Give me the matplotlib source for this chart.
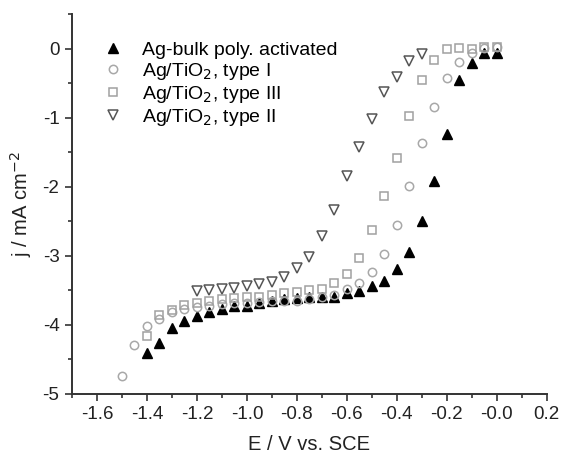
import matplotlib as mpl
mpl.use('Agg')
import matplotlib.pyplot as plt
from matplotlib.ticker import MultipleLocator
import numpy as np

plt.rcParams['font.family'] = ['Liberation Sans', 'DejaVu Sans']

# Ag-bulk poly. activated (filled triangles)
e_bulk = [-1.40, -1.35, -1.30, -1.25, -1.20, -1.15, -1.10, -1.05, -1.00, -0.95, -0.90,
          -0.85, -0.80, -0.75, -0.70, -0.65, -0.60, -0.55, -0.50, -0.45, -0.40, -0.35,
          -0.30, -0.25, -0.20, -0.15, -0.10, -0.05, 0.00]
j_bulk = [-4.41, -4.26, -4.05, -3.94, -3.87, -3.81, -3.77, -3.72, -3.72, -3.68, -3.66,
          -3.62, -3.61, -3.60, -3.59, -3.59, -3.54, -3.51, -3.44, -3.36, -3.19, -2.94,
          -2.50, -1.92, -1.24, -0.46, -0.21, -0.06, -0.06]

# Ag/TiO2, type I (open circles)
e_type1 = [-1.50, -1.45, -1.40, -1.35, -1.30, -1.25, -1.20, -1.15, -1.10, -1.05, -1.00,
           -0.95, -0.90, -0.85, -0.80, -0.75, -0.70, -0.65, -0.60, -0.55, -0.50, -0.45,
           -0.40, -0.35, -0.30, -0.25, -0.20, -0.15, -0.10, -0.05, 0.00]
j_type1 = [-4.74, -4.29, -4.01, -3.91, -3.81, -3.77, -3.74, -3.72, -3.70, -3.69, -3.68,
           -3.67, -3.66, -3.66, -3.65, -3.63, -3.60, -3.56, -3.48, -3.39, -3.23, -2.97,
           -2.55, -1.99, -1.36, -0.85, -0.42, -0.19, -0.06, 0.01, 0.02]

# Ag/TiO2, type III (open squares)
e_type3 = [-1.40, -1.35, -1.30, -1.25, -1.20, -1.15, -1.10, -1.05, -1.00, -0.95, -0.90,
           -0.85, -0.80, -0.75, -0.70, -0.65, -0.60, -0.55, -0.50, -0.45, -0.40, -0.35,
           -0.30, -0.25, -0.20, -0.15, -0.10, -0.05, 0.00]
j_type3 = [-4.16, -3.85, -3.78, -3.71, -3.68, -3.65, -3.62, -3.61, -3.60, -3.59, -3.56,
           -3.54, -3.52, -3.50, -3.48, -3.39, -3.26, -3.03, -2.62, -2.14, -1.58, -0.97,
           -0.46, -0.17, -0.01, 0.01, 0.00, 0.02, 0.02]

# Ag/TiO2, type II (open down triangles)
e_type2 = [-1.20, -1.15, -1.10, -1.05, -1.00, -0.95, -0.90, -0.85, -0.80, -0.75, -0.70,
           -0.65, -0.60, -0.55, -0.50, -0.45, -0.40, -0.35, -0.30]
j_type2 = [-3.51, -3.49, -3.48, -3.47, -3.44, -3.41, -3.38, -3.30, -3.18, -3.01, -2.71,
           -2.34, -1.85, -1.42, -1.02, -0.62, -0.41, -0.18, -0.08]

fig = plt.figure(figsize=(5.62, 4.57), dpi=100)
ax = fig.add_axes([0.128, 0.138, 0.845, 0.831])

ax.plot(e_bulk, j_bulk, linestyle='none', marker='^', ms=7, mfc='black', mec='black',
        label='Ag-bulk poly. activated')
ax.plot(e_type1, j_type1, linestyle='none', marker='o', ms=6, mfc='none', mec='#a8a8a8',
        mew=1.1, label='Ag/TiO$_2$, type I')
ax.plot(e_type3, j_type3, linestyle='none', marker='s', ms=5.5, mfc='none', mec='#a0a0a0',
        mew=1.1, label='Ag/TiO$_2$, type III')
ax.plot(e_type2, j_type2, linestyle='none', marker='v', ms=7, mfc='none', mec='#555555',
        mew=1.1, label='Ag/TiO$_2$, type II')

ax.set_xlim(-1.7, 0.2)
ax.set_ylim(-5, 0.5)
ax.xaxis.set_minor_locator(MultipleLocator(0.1))
ax.yaxis.set_minor_locator(MultipleLocator(0.5))
xt = np.arange(-1.6, 0.21, 0.2)
ax.set_xticks(xt)
ax.set_xticklabels([f'{v:.1f}' for v in xt])
ax.set_yticks([-5, -4, -3, -2, -1, 0])
ax.set_yticklabels(['-5', '-4', '-3', '-2', '-1', '0'])

for side in ['top', 'right']:
    ax.spines[side].set_visible(False)
for side in ['left', 'bottom']:
    ax.spines[side].set_linewidth(1.4)
    ax.spines[side].set_color('#333333')
ax.tick_params(which='major', direction='out', length=5, width=1.2, color='#333333',
               labelsize=13.5, labelcolor='#222222', pad=4)
ax.tick_params(which='minor', direction='out', length=3, width=1.2, color='#333333')

ax.set_xlabel('E / V vs. SCE', fontsize=14.5, color='#222222', labelpad=8)
ax.set_ylabel('j / mA cm$^{-2}$', fontsize=14.5, color='#222222', labelpad=6)

ax.legend(loc='upper left', bbox_to_anchor=(0.037, 0.948), frameon=False, fontsize=14,
          handletextpad=0.7, labelspacing=0.1, borderaxespad=0.0, handlelength=1.6)

fig.savefig('out.png', dpi=100)
